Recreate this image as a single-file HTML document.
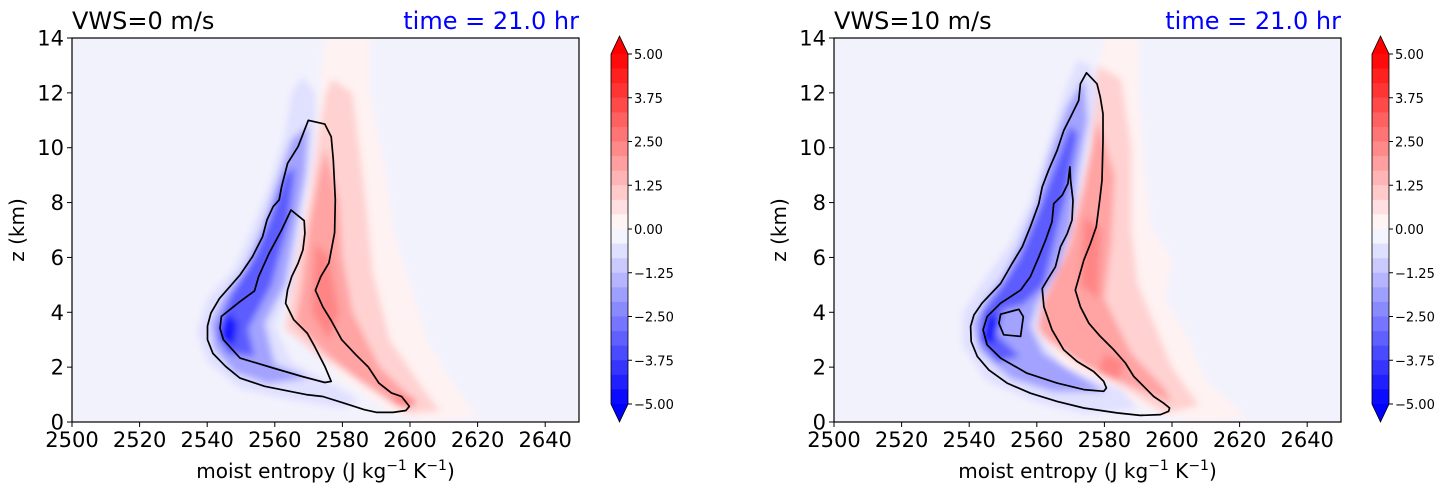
<!DOCTYPE html>
<html><head><meta charset="utf-8">
<style>
body{margin:0;background:#fff;}
svg{display:block;font-family:"DejaVu Sans","Liberation Sans",sans-serif;}
</style></head>
<body>
<svg id="fig" width="1451" height="496" viewBox="0 0 1451 496" xmlns="http://www.w3.org/2000/svg">
<defs>
<filter id="blur" x="-20%" y="-20%" width="140%" height="140%"><feGaussianBlur stdDeviation="3.5"/></filter>
<clipPath id="clipL"><rect x="72" y="38" width="507" height="384"/></clipPath>
<clipPath id="clipR"><rect x="834" y="38" width="507" height="384"/></clipPath>
</defs>
</svg>
<script>
// ---------- data ----------
const xTicks=[2500,2520,2540,2560,2580,2600,2620,2640];
const yTicks=[0,2,4,6,8,10,12,14];
const cbTicks=[5.00,3.75,2.50,1.25,0.00,-1.25,-2.50,-3.75,-5.00];
const titlesLeft=["VWS=0 m/s","VWS=10 m/s"];
const titleTime="time = 21.0 hr";

const L_outer=[[2569.9,11.0],[2574.8,10.86],[2576.7,10.4],[2577.3,9.55],[2577.9,8.1],[2577.7,6.9],[2576,5.8],[2573.6,5.3],[2572,4.8],[2574.2,4.2],[2576.7,3.7],[2579.8,3.0],[2584,2.45],[2587.7,2.0],[2590.8,1.42],[2594.5,1.06],[2597.5,0.93],[2599.8,0.57],[2598.8,0.42],[2595,0.35],[2590.2,0.35],[2586.5,0.45],[2580.4,0.69],[2574.2,0.93],[2569.3,1.0],[2564.4,1.12],[2557,1.3],[2549.7,1.6],[2545.4,2.03],[2541.7,2.5],[2540.1,3.0],[2540.1,3.5],[2541.1,3.97],[2543.6,4.5],[2549.7,5.36],[2553.4,6.03],[2556.4,6.76],[2557.7,7.37],[2559.5,7.85],[2561.3,8.1],[2562,8.58],[2563.8,9.43],[2566.9,10.04]];
const L_inner=[[2564.8,7.73],[2568.7,7.34],[2568.9,6.88],[2568.3,6.27],[2566.9,5.79],[2565,5.3],[2563.8,4.82],[2563.2,4.33],[2565.6,3.73],[2569.6,3.24],[2571.8,2.75],[2574.8,2.03],[2576.7,1.48],[2574.8,1.44],[2568.1,1.66],[2559.5,1.97],[2549.7,2.33],[2544.8,3.0],[2543.8,3.42],[2544.2,3.85],[2545.4,3.97],[2549.7,4.39],[2554,4.78],[2555.2,5.3],[2558.3,6.15],[2562,7.0]];
const R_outer=[[2574.7,12.73],[2577.8,12.33],[2578.8,11.84],[2579.6,11.24],[2579.6,10.27],[2579.3,8.81],[2578.6,8.08],[2577.6,7.12],[2575.9,6.51],[2573.9,5.9],[2571.4,4.81],[2572.9,4.2],[2575.4,3.6],[2578.8,3.12],[2582.8,2.63],[2586.2,2.15],[2588.7,1.66],[2591.6,1.3],[2594.6,0.93],[2597.5,0.69],[2599.3,0.51],[2599,0.39],[2596.6,0.27],[2590.6,0.24],[2583.7,0.33],[2573.9,0.51],[2566,0.75],[2558.1,1.05],[2551.2,1.42],[2545.8,1.9],[2542.4,2.39],[2540.6,2.93],[2540.4,3.48],[2541.4,3.9],[2543.8,4.33],[2549.3,5.05],[2552.7,5.78],[2555.7,6.39],[2558.1,7.12],[2560.6,7.96],[2561.6,8.57],[2563.5,9.18],[2566,9.9],[2568,10.63],[2570,11.12],[2572.4,11.72],[2572.9,12.33]];
const R_inner=[[2569.8,9.3],[2570,8.81],[2570.7,8.08],[2570.4,7.36],[2569,6.87],[2567,6.39],[2565.5,5.66],[2563.1,5.18],[2561.6,4.87],[2562.1,4.2],[2564.5,3.36],[2568,2.63],[2571.9,2.21],[2576.8,1.84],[2579.8,1.48],[2580.6,1.24],[2579.8,1.12],[2573.9,1.18],[2566,1.42],[2557.1,1.78],[2549.3,2.33],[2545.3,2.81],[2544.1,3.36],[2545.3,3.84],[2549.3,4.33],[2555.2,4.81],[2558.1,5.3],[2560.6,6.02],[2562.6,6.63],[2564.5,7.3],[2565,7.96],[2567.5,8.27],[2569.2,8.69]];
const R_loop=[[2549.3,3.93],[2554.7,4.11],[2556,3.84],[2555.2,3.12],[2550.2,3.18],[2548.8,3.6]];

const L_fields=[
 [0.25,[[2575,14],[2588,14],[2588,12],[2593,9],[2595,7],[2600,5],[2605,3],[2612,1.5],[2620,0.2],[2605,0],[2595,0.3],[2580,1.5],[2570,3],[2567,6],[2572,10],[2574,13]]],
 [0.9,[[2577,12.5],[2583,12],[2585,10],[2587,8],[2589,5.5],[2594,3],[2604,1.2],[2609,0.4],[2600,0.3],[2585,1.5],[2572,2.5],[2563,3.4],[2565,5],[2570,8],[2573,10.5],[2575,12]]],
 [1.8,[[2575,10],[2579,8],[2580,6],[2583,4],[2591,2],[2602,0.7],[2597,0.5],[2585,1.5],[2575,2.5],[2566,3.6],[2568,5],[2570,7],[2573,9]]],
 [2.4,[[2572,6.5],[2576,6],[2579,4],[2576,3],[2571,4]]],
 [2.4,[[2597,1.0],[2602,0.8],[2600,0.5],[2594,0.8]]],
 [-0.6,[[2568,12.6],[2572,12.0],[2572,11],[2571,9.5],[2568,7.5],[2565,5],[2560,3.5],[2565,2.2],[2578,1.3],[2585,0.8],[2580,0.5],[2565,0.8],[2550,1.2],[2540,2.2],[2537,3.3],[2540,4.5],[2548,5.6],[2553,7],[2558,8.5],[2563,10.5],[2565,12]]],
 [-1.8,[[2570,10.8],[2569,9],[2566,7],[2563,5],[2557,3.6],[2560,2.1],[2570,1.6],[2558,1.4],[2548,1.8],[2542,2.7],[2541,3.6],[2545,4.6],[2551,5.6],[2556,7],[2560,8.5],[2565,10.3]]],
 [-3.2,[[2566,9.3],[2564,7.3],[2559,5],[2552,3.4],[2554,2.4],[2546,2.5],[2543,3.4],[2547,4.6],[2554,6],[2559,7.5],[2563,9]]],
 [-4.6,[[2543.5,3.0],[2546,4.0],[2549,3.6],[2548,2.8]]]
];
const R_fields=[
 [0.25,[[2580,14],[2590,14],[2590,12],[2592,9],[2594,7],[2600,6],[2598,4.5],[2605,3],[2610,1.5],[2622,0.2],[2610,0],[2598,0.2],[2580,1.2],[2565,2.3],[2557,3.6],[2562,5],[2570,7],[2576,10],[2578,12.5]]],
 [0.9,[[2578,13],[2585,12.5],[2588,10],[2588,7],[2590,5],[2600,2],[2608,0.6],[2598,0.3],[2585,1.3],[2570,2.3],[2558,3.5],[2562,5],[2570,7],[2576,10],[2577,12]]],
 [1.8,[[2578,11],[2583,9],[2582,6.5],[2580,4.5],[2588,2.5],[2598,1.2],[2600,0.7],[2590,1.2],[2575,2],[2563,3],[2559,3.8],[2564,4.9],[2570,6.5],[2574,8.5],[2577,10.5]]],
 [2.4,[[2574,7.5],[2579,7],[2578,4.5],[2573,5]]],
 [2.4,[[2580,2.5],[2586,2.2],[2584,1.5],[2578,1.8]]],
 [-0.6,[[2572,13.2],[2576,13],[2578,12],[2575,10],[2572,8],[2568,6],[2562,4.5],[2560,3.3],[2568,2],[2585,1.2],[2590,0.5],[2575,0.3],[2560,0.7],[2545,1.5],[2538,2.8],[2538,4],[2545,5.3],[2552,6.5],[2558,8],[2563,10],[2568,12]]],
 [-1.8,[[2574,12.5],[2575,11],[2572,9],[2570,7],[2566,5.5],[2560,4.3],[2558,3.5],[2562,2.5],[2575,1.5],[2580,1.1],[2565,1.1],[2552,1.6],[2543,2.6],[2541,3.6],[2545,4.5],[2550,5.3],[2555,6.5],[2560,8],[2564,9.8],[2569,11.5]]],
 [-3.2,[[2572,10.5],[2568,8],[2565,6.5],[2562,5],[2556,4.3],[2550,4.1],[2548,3.2],[2555,2.4],[2548,2.2],[2543,3],[2544,4],[2550,5],[2555,6],[2560,7.5],[2566,9.5],[2570,10.8]]],
 [-4.6,[[2544,3.0],[2546,4.0],[2549,3.7],[2547,2.8]]]
];

const NS="http://www.w3.org/2000/svg";
const svg=document.getElementById('fig');
function mk(tag,attrs,parent){const e=document.createElementNS(NS,tag);for(const k in attrs)e.setAttribute(k,attrs[k]);(parent||svg).appendChild(e);return e;}
function col(v){
  const t=Math.min(1,Math.abs(v)/5);
  const c=Math.round(255*(1-t));
  return v<0?`rgb(${c},${c},255)`:`rgb(255,${c},${c})`;
}
function drawPanel(px,title,outer,inner,loop,fields,clip,key){
  const x0=px,x1=px+507,yTop=38,yBot=422;
  const sx=s=>x0+(s-2500)/150*(x1-x0);
  const sy=z=>yBot-z/14*(yBot-yTop);
  const pts=a=>a.map(p=>sx(p[0]).toFixed(1)+','+sy(p[1]).toFixed(1)).join(' ');
  const g=mk('g',{'clip-path':`url(#${clip})`});
  
  
  mk('rect',{x:x0,y:yTop,width:507,height:384,fill:'#f2f2fd'},g);
  const fg=mk('g',{filter:'url(#blur)'},g);
  fields.forEach((f,i)=>{
    const p=mk('polygon',{points:pts(f[1]),fill:col(f[0])},fg);
    
    
  });
  [outer,inner,loop].forEach((c,i)=>{
    if(!c)return;
    const p=mk('polygon',{points:pts(c),fill:'none',stroke:'#000','stroke-width':1.7,'stroke-linejoin':'round'},g);
    
    
  });
  const fr=mk('rect',{x:x0,y:yTop,width:507,height:384,fill:'none',stroke:'#000','stroke-width':1.2});
  
  
  xTicks.forEach(t=>{
    mk('line',{x1:sx(t),x2:sx(t),y1:yBot,y2:yBot+5,stroke:'#000'});
    const tx=mk('text',{x:sx(t),y:yBot+25,'font-size':21,'text-anchor':'middle'});tx.textContent=t;
    
    
  });
  yTicks.forEach(t=>{
    mk('line',{x1:x0-5,x2:x0,y1:sy(t),y2:sy(t),stroke:'#000'});
    const tx=mk('text',{x:x0-8,y:sy(t)+7.5,'font-size':21,'text-anchor':'end'});tx.textContent=t;
    
    
  });
  const xl=mk('text',{x:(x0+x1)/2,y:478,'font-size':20,'text-anchor':'middle'});
  xl.innerHTML='moist entropy (J kg<tspan dy="-8" font-size="14">−1</tspan><tspan dy="8"> K</tspan><tspan dy="-8" font-size="14">−1</tspan><tspan dy="8">)</tspan>';
  
  
  const yl=mk('text',{x:0,y:0,'font-size':20,'text-anchor':'middle',transform:`translate(${x0-48},230) rotate(-90)`});yl.textContent='z (km)';
  
  
  const t1=mk('text',{x:x0,y:29,'font-size':24});t1.textContent=title;
  
  
  const t2=mk('text',{x:x1,y:29,'font-size':24,'text-anchor':'end',fill:'#0000ff'});t2.textContent=titleTime;
  
  
}
function drawColorbar(cx,key){
  const w=17,top=54,bot=404,n=24;
  const g=mk('g',{});
  
  
  const h=(bot-top)/n;
  for(let i=0;i<n;i++){
    const v=5-(i+0.5)*10/n;
    mk('rect',{x:cx,y:top+i*h,width:w,height:h+0.5,fill:col(v)},g);
  }
  mk('polygon',{points:`${cx},${top} ${cx+w/2},36 ${cx+w},${top}`,fill:'#ff0000'},g);
  mk('polygon',{points:`${cx},${bot} ${cx+w/2},422 ${cx+w},${bot}`,fill:'#0000ff'},g);
  mk('polygon',{points:`${cx},${top} ${cx+w/2},36 ${cx+w},${top} ${cx+w},${bot} ${cx+w/2},422 ${cx},${bot}`,fill:'none',stroke:'#000','stroke-width':0.8},g);
  cbTicks.forEach(t=>{
    const y=top+(5-t)/10*(bot-top);
    mk('line',{x1:cx+w,x2:cx+w+4,y1:y,y2:y,stroke:'#000'},g);
    const tx=mk('text',{x:cx+w+6,y:y+5,'font-size':13},g);
    tx.textContent=(t<0?'−':'')+Math.abs(t).toFixed(2);
    
    
  });
}
drawPanel(72,titlesLeft[0],L_outer,L_inner,null,L_fields,'clipL','left');
drawPanel(834,titlesLeft[1],R_outer,R_inner,R_loop,R_fields,'clipR','right');
drawColorbar(611,'left');
drawColorbar(1372,'right');
</script>
</body></html>
